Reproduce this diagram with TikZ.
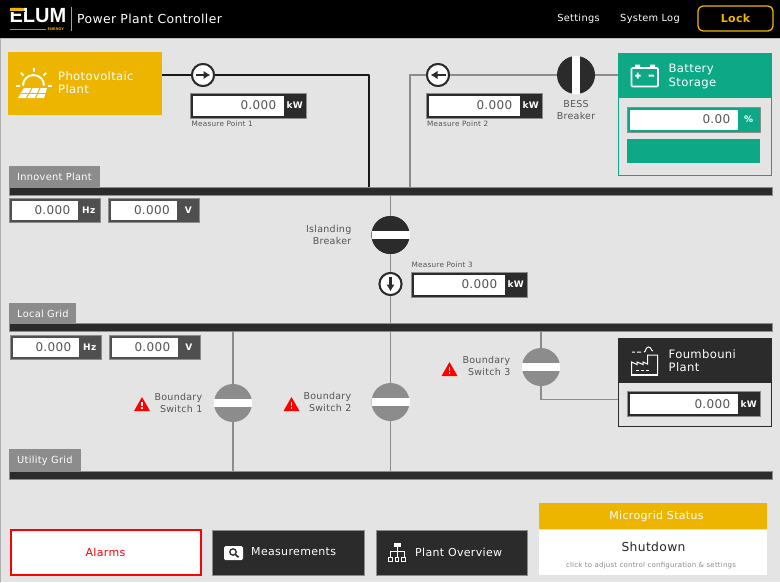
\documentclass[tikz,border=0pt]{standalone}
\usepackage{fontspec}
\setmainfont{DejaVu Sans}[LetterSpace=3]
\newfontfamily\logofont{Liberation Sans}
\usetikzlibrary{arrows.meta,calc}
\definecolor{bgc}{HTML}{E4E4E4}
\definecolor{dark}{HTML}{2B2B2B}
\definecolor{mid}{HTML}{4F4F4F}
\definecolor{gry}{HTML}{8C8C8C}
\definecolor{yel}{HTML}{EDB500}
\definecolor{teal}{HTML}{0DA886}
\definecolor{txt}{HTML}{555555}
\tikzset{
  x=1pt,y=-1pt,
  box/.style={rectangle,inner sep=0pt,outer sep=0pt,anchor=north west},
  bus/.style={box,fill=dark,draw=gry,line width=.3pt,minimum height=8pt,minimum width=763pt},
  tabbox/.style={box,fill=gry},
  tabtxt/.style={inner sep=0pt,anchor=west,text=white,font=\fontsize{9.8}{10}\selectfont},
  thinline/.style={draw=gry,line width=1.4pt},
  thickline/.style={draw=black!90,line width=2.3pt},
  breaker/.style={circle,inner sep=0pt,outer sep=0pt,minimum size=38pt},
  meter/.style={circle,fill=white,draw=dark,line width=1.9pt,inner sep=0pt,outer sep=0pt,minimum size=22pt},
  lab/.style={text=txt,font=\fontsize{9.5}{12}\selectfont,inner sep=0pt},
  small/.style={text=txt,font=\fontsize{7.3}{8}\selectfont,inner sep=0pt,anchor=west},
  headtxt/.style={text=white,font=\fontsize{11.6}{13.5}\selectfont,align=left,anchor=west,inner sep=0pt},
  navtxt/.style={text=white,font=\fontsize{11}{12}\selectfont,inner sep=0pt},
  btn/.style={box,fill=dark,draw=gry,line width=.5pt},
  arrowline/.style={-{Latex[length=7pt,width=8.5pt]},line width=2.6pt,dark},
}
% name, x, y, total w, white w, h, value, unit, colour
\newcommand{\valbox}[9]{%
  \node[box,fill=#9,draw=gry,line width=.4pt,minimum width=#4pt,minimum height=#6pt] (#1) at (#2,#3) {};
  \node[box,fill=white,minimum width=#5pt,minimum height=#6pt-5pt] (#1w) at ($(#2,#3)+(2.5,2.5)$) {};
  \node[anchor=east,inner sep=0pt,text=txt,font=\fontsize{12}{13}\selectfont] at ($(#1w.east)+(-7,0)$) {#7};
  \node[inner sep=0pt,text=white,font=\fontsize{9}{10}\selectfont\bfseries] at ($(#1w.east)!.5!(#1.east)$) {#8};
}
\newcommand{\brk}[4]{% name,x,y,colour (horizontal bar)
  \node[breaker,fill=#4] (#1) at (#2,#3) {};
  \fill[white] ($(#2,#3)+(-19,-4)$) rectangle ($(#2,#3)+(19,4)$);
}
\newcommand{\warn}[2]{%
  \fill[red,rounded corners=.4pt] ($(#1,#2)+(-8,7)$) -- ($(#1,#2)+(0,-7)$) -- ($(#1,#2)+(8,7)$) -- cycle;
  \fill[white] ($(#1,#2)+(-.9,-2.5)$) rectangle ($(#1,#2)+(.9,2)$);
  \fill[white] ($(#1,#2)+(-.9,3)$) rectangle ($(#1,#2)+(.9,5)$);
}
\begin{document}
\begin{tikzpicture}
\useasboundingbox (0,0) rectangle (780,582);
\fill[bgc] (0,0) rectangle (780,582);
\fill[gry!70] (0,38) rectangle (1.2,582);
% header
\fill[black] (0,0) rectangle (780,38);
\fill[gry!60] (0,37.5) rectangle (780,38.5);
\node[inner sep=0pt,anchor=west,text=white,font=\logofont\fontsize{25}{25}\selectfont\bfseries,xscale=.8,yscale=.82] (logo) at (9.5,15.8) {ELUM};
\fill[yel] (10,7.5) rectangle (24,10.5);
\fill[black] (10,10.5) rectangle (25,11.8);
\fill[gry] (10,28.8) rectangle (46,29.6);
\node[inner sep=0pt,anchor=east,text=yel,font=\fontsize{3.5}{4}\selectfont\bfseries] (energy) at (64,29.5) {ENERGY};
\fill[gry!80] (71,7) rectangle (71.8,31);
\node[inner sep=0pt,anchor=west,text=white,font=\fontsize{12.4}{14}\selectfont] (title) at (77,18.5) {Power Plant Controller};
\node[navtxt,font=\fontsize{9.8}{12}\selectfont] (settings) at (578.5,18.5) {Settings};
\node[navtxt,font=\fontsize{9.8}{12}\selectfont] (syslog) at (650,18.5) {System Log};
\node[box,draw=yel,line width=1.3pt,rounded corners=5pt,minimum width=75pt,minimum height=25pt,text=yel,font=\fontsize{11}{12}\selectfont\bfseries] (lock) at (698,6) {Lock};
% buses
\node[bus] (bus1) at (9,187) {};
\node[bus] (bus2) at (9,323.5) {};
\node[bus] (bus3) at (9,471) {};
\node[tabbox,minimum width=91pt,minimum height=21pt] (tab1) at (9,166) {};
\node[tabtxt] (t1) at (17,177) {Innovent Plant};
\node[tabbox,minimum width=67pt,minimum height=20.5pt] (tab2) at (9,303) {};
\node[tabtxt] (t2) at (17,314) {Local Grid};
\node[tabbox,minimum width=71.5pt,minimum height=22pt] (tab3) at (9,449) {};
\node[tabtxt] (t3) at (17,461) {Utility Grid};
% blocks
\node[box,fill=yel,minimum width=154pt,minimum height=63pt] (pv) at (8,52) {};
\node[headtxt] (pvt) at (58,82.5) {Photovoltaic\\Plant};
\node[box,draw=teal,line width=1pt,fill=bgc,minimum width=153pt,minimum height=122pt] (batt) at (618,53) {};
\fill[teal] (618,53) rectangle (771,98);
\node[headtxt] (batt t) at (668.5,76.3) {Battery\\Storage};
\node[box,draw=dark,line width=1pt,fill=bgc,minimum width=153pt,minimum height=88pt] (foum) at (618,338) {};
\fill[dark] (618,338) rectangle (771,383);
\node[headtxt] (foumt) at (668.5,360.5) {Foumbouni\\Plant};
% connectors
\coordinate (j1) at (369,187);
\coordinate (j2) at (410,187);
\node[meter] (m1) at (203,75) {};
\node[meter] (m2) at (438,75) {};
\node[meter] (m3) at (390.5,284) {};
\draw[thickline] (pv.east |- m1) -- (m1);
\draw[thickline,line join=round] (m1) -| (j1);
\draw[thinline] (j2) |- (m2);
\node[breaker] (bess) at (576,75) {};
\draw[thinline] (m2) -- (bess);
\draw[thinline] (bess) -- (batt.west |- bess);
\brk{isl}{390.5}{235}{dark}
\node[breaker] (b1) at (233,403) {};
\node[breaker] (b2) at (390.5,402) {};
\node[breaker] (b3) at (541,367) {};
\draw[thinline] (bus1.south -| isl) -- (isl);
\draw[thinline] (isl) -- (m3);
\draw[thinline] (m3) -- (bus2.north -| m3);
\draw[thinline] (bus2.south -| b1) -- (bus3.north -| b1);
\draw[thinline] (bus2.south -| b2) -- (bus3.north -| b2);
\draw[thinline] (bus2.south -| b3) -- (b3);
\draw[thinline] (b3.south) |- (foum.west |- 0,399.5);
% redraw meters & breakers on top
\node[meter] (m1a) at (203,75) {};
\node[meter] (m2a) at (438,75) {};
\node[meter] (m3a) at (390.5,284) {};
\draw[arrowline] (195.5,75) -- (210.5,75);
\draw[arrowline] (445.5,75) -- (430.5,75);
\draw[arrowline] (390.5,276.5) -- (390.5,291.5);
\brk{isl2}{390.5}{235}{dark}
\brk{b1a}{233}{403}{gry}
\brk{b2a}{390.5}{402}{gry}
\brk{b3a}{541}{367}{gry}
\node[breaker,fill=dark] (bessb) at (576,75) {};
\fill[white] (572,56) rectangle (580,94);
% value boxes
\valbox{v1}{190}{93}{116}{91}{25}{0.000}{kW}{dark}
\valbox{v2}{426}{93}{116}{91}{25}{0.000}{kW}{dark}
\valbox{v3}{411}{272}{116}{91}{25}{0.000}{kW}{dark}
\valbox{v4}{9}{198}{91}{66}{24}{0.000}{Hz}{mid}
\valbox{v5}{108.5}{198}{91}{66}{24}{0.000}{V}{mid}
\valbox{v6}{10}{335}{91}{66}{24}{0.000}{Hz}{mid}
\valbox{v7}{109}{335}{91}{66}{24}{0.000}{V}{mid}
\valbox{v8}{627}{107}{133}{108}{25}{0.00}{\%}{teal}
\valbox{v9}{627}{391.5}{133}{108}{25}{0.000}{kW}{dark}
\node[box,fill=teal,minimum width=133pt,minimum height=24pt] (bar) at (627,139) {};
\node[small] (s1) at (191.5,123.5) {Measure Point 1};
\node[small] (s2) at (427,123.5) {Measure Point 2};
\node[small] (s3) at (411.5,265) {Measure Point 3};
% labels
\node[lab,align=center] (lbess) at (576,110.5) {BESS\\Breaker};
\node[lab,align=right,anchor=east] (lisl) at (351.5,234.5) {Islanding\\Breaker};
\node[lab,align=right,anchor=east] (l1) at (202.5,402.5) {Boundary\\Switch 1};
\node[lab,align=right,anchor=east] (l2) at (351.5,401.5) {Boundary\\Switch 2};
\node[lab,align=right,anchor=east] (l3) at (510.5,366) {Boundary\\Switch 3};
\warn{142}{404}
\warn{291.5}{404}
\warn{449.5}{369}
% buttons
\node[box,fill=white,draw=red,line width=2pt,minimum width=190pt,minimum height=45pt] (alarms) at (11,530) {};
\node[inner sep=0pt,text=red,font=\fontsize{11}{12}\selectfont] (alt) at (105.5,552.5) {Alarms};
\node[btn,minimum width=152pt,minimum height=45.5pt] (meas) at (212.5,530) {};
\node[navtxt,anchor=west] (meast) at (251,552) {Measurements};
\node[btn,minimum width=151pt,minimum height=45.5pt] (over) at (376,530) {};
\node[navtxt,anchor=west] (overt) at (415,552) {Plant Overview};
\node[box,fill=yel,minimum width=228pt,minimum height=26pt] (ms) at (539,503) {};
\node[inner sep=0pt,text=white,font=\fontsize{11}{12}\selectfont] (mst) at (656.5,516) {Microgrid Status};
\node[box,fill=white,minimum width=228pt,minimum height=45.5pt] (sd) at (539,529.5) {};
\node[inner sep=0pt,text=black!85,font=\fontsize{12.3}{14}\selectfont] (sdt) at (653.5,547) {Shutdown};
\node[inner sep=0pt,text=gry,font=\fontsize{7}{8}\selectfont] (sdc) at (651,566) {click to adjust control configuration \& settings};
% magnify icon
\fill[white,rounded corners=1.5pt] (224,546) rectangle (243,560);
\draw[dark,line width=1.3pt] (233,552) circle (3.2);
\draw[dark,line width=1.6pt] (235.3,554.3) -- (238.5,557.3);
% hierarchy icon
\fill[white] (393.5,542.5) rectangle (401,547);
\draw[white,line width=.9pt] (397,547) -- (397,551) (390,554) -- (390,551) -- (404,551) -- (404,554) (397,551) -- (397,554);
\draw[white,line width=.6pt] (388.5,557.5) rectangle (392,561) (395,557.5) rectangle (398.5,561) (401.5,557.5) rectangle (405.5,561);
\draw[white,line width=.9pt] (390,554) -- (390,557) (397,554) -- (397,557) (404,554) -- (404,557);
% sun + panel icon
\draw[white,line width=2pt] (23,85.5) arc (180:360:10.5);
\foreach \a in {180,225,270,315,360}{
  \draw[white,line width=2pt] ($(33.5,85.5)+(\a:14)$) -- ($(33.5,85.5)+(\a:18)$);
}
\fill[yel] (20,86.5) rectangle (50,89);
\fill[white] (24,88) -- (47,88) -- (44,98) -- (18,98) -- cycle;
\draw[yel,line width=1pt] (32,88) -- (26.5,98) (40,88) -- (35.5,98);
\draw[yel,line width=.9pt] (21,93) -- (46,93);
% battery icon
\draw[white,line width=1.6pt,rounded corners=1pt] (631.5,68) rectangle (658,86.5);
\fill[white] (635,64.5) rectangle (640,68) (650,64.5) rectangle (655,68);
\fill[white] (635,74.5) rectangle (640.5,76.5) (636.8,72.5) rectangle (638.7,78.5) (648.5,74.5) rectangle (654,76.5);
% factory icon
\draw[white,line width=1pt] (631.5,374) -- (631.5,362) -- (637,364.5) -- (637,362) -- (643,364.5) -- (643,362) -- (647.5,364) -- (647.5,355) -- (657.5,355) -- (657.5,374);
\draw[white,line width=1pt] (632,352) -- (635,352) (637,352) -- (641,352) (644,352) .. controls (646,352) and (645.5,347) .. (648.5,347) .. controls (651.5,347) and (651,351) .. (653,351);
\draw[white,line width=1pt] (636,370.5) -- (638.5,370.5) (641,370.5) -- (644,370.5) (646,370.5) -- (649,370.5);
\draw[white,line width=1.2pt] (630.5,375) -- (658,375);
\end{tikzpicture}
\end{document}
